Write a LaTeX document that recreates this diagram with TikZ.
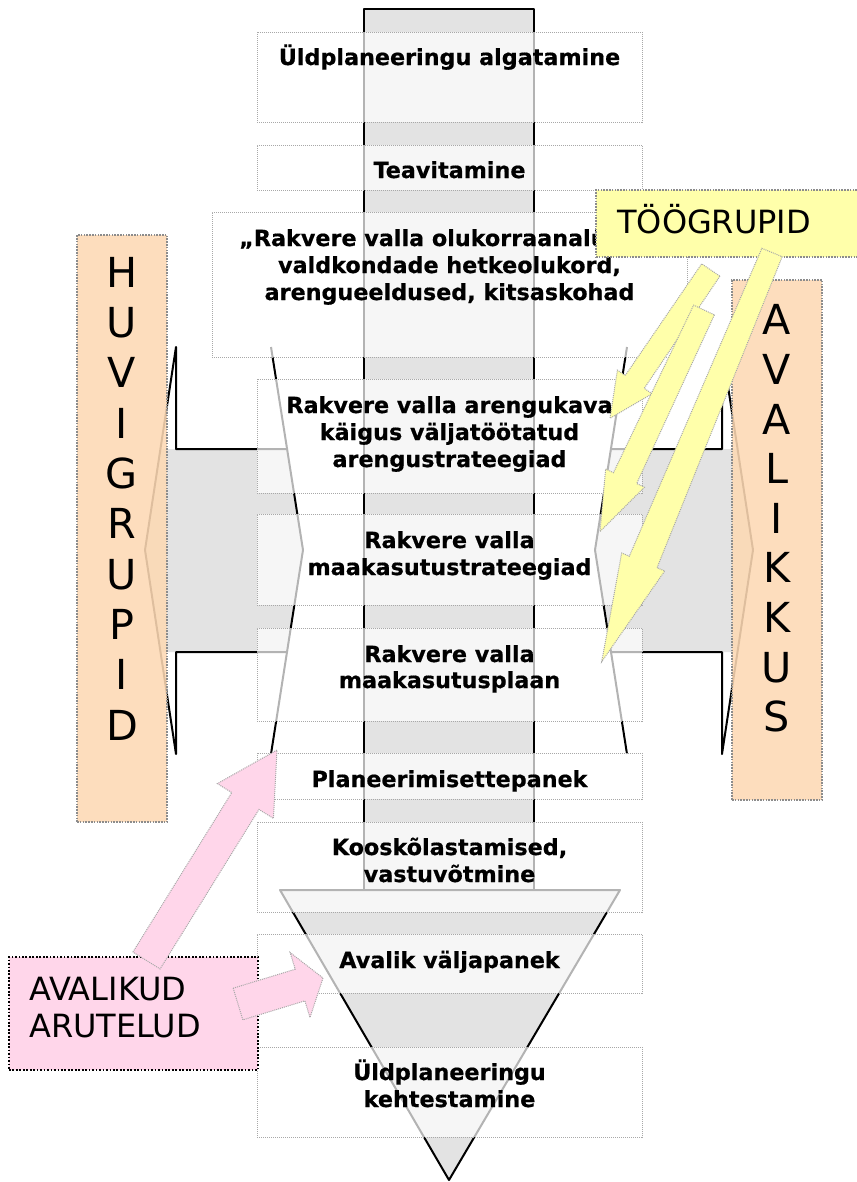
\documentclass[tikz,border=0pt]{standalone}
\usepackage{fontspec}
\setmainfont{DejaVu Sans}[BoldFeatures={FakeBold=0.6}]
\usetikzlibrary{calc,fit}
\definecolor{colgray}{RGB}{227,227,227}
\definecolor{boxline}{RGB}{168,168,168}
\definecolor{peach}{RGB}{253,217,180}
\definecolor{lemon}{RGB}{255,255,170}
\definecolor{rose}{RGB}{255,214,234}
\definecolor{dotgray}{RGB}{140,140,140}
% #1 style, #2 tail, #3 tip, #4 half shaft at tail, #5 half shaft at head, #6 half head, #7 head length
\newcommand{\blockarrow}[7]{%
  \coordinate (#2-base) at ($(#3)!#7!(#2)$);
  \path[#1] ($(#2)!#4!90:(#3)$) -- ($(#2-base)!#5!90:(#3)$) -- ($(#2-base)!#6!90:(#3)$) -- (#3)
    -- ($(#2-base)!#6!-90:(#3)$) -- ($(#2-base)!#5!-90:(#3)$) -- ($(#2)!#4!-90:(#3)$) -- cycle;
}
\begin{document}
\begin{tikzpicture}[x=0.75pt,y=-0.75pt,
  stagebox/.style={draw=boxline,line width=0.75pt,dash pattern=on 0.75pt off 0.75pt,fill=white,fill opacity=0.7,inner sep=0pt},
  stagetext/.style={anchor=base,inner sep=0pt,font=\fontsize{16.7pt}{20pt}\selectfont\bfseries},
  outline/.style={draw=black,line width=1.5pt,line join=round},
  groupbox/.style={draw=dotgray,line width=1.2pt,dash pattern=on 1.2pt off 0.9pt,fill=peach,fill opacity=0.88,inner sep=0pt},
  yellowbox/.style={draw=dotgray,line width=1.2pt,dash pattern=on 1.2pt off 0.9pt,fill=lemon,inner sep=0pt},
  pinkbox/.style={draw=black,line width=1.3pt,dash pattern=on 1.3pt off 1.3pt,fill=rose,inner sep=0pt},
  bigletters/.style={align=center,inner sep=0pt},
  labeltext/.style={anchor=base west,inner sep=0pt,font=\fontsize{24pt}{28pt}\selectfont},
  yarrow/.style={fill=lemon,draw=boxline,line width=0.75pt,dash pattern=on 0.75pt off 0.75pt,line join=miter},
  parrow/.style={fill=rose,draw=boxline,line width=0.75pt,dash pattern=on 0.75pt off 0.75pt,line join=miter}
]
\useasboundingbox (0,0) rectangle (857,1182);
\fill[white] (0,0) rectangle (857,1182);

% central column and funnel
\fill[colgray] (364,9) rectangle (534,890);
\fill[colgray] (280,890) -- (620,890) -- (449,1180) -- cycle;
\draw[outline] (364,890) -- (364,9) -- (534,9) -- (534,890);
\draw[outline] (280,890) -- (620,890) -- (449,1180) -- cycle;

% left group
\fill[colgray] (160.4,449) -- (287.1,449) -- (303,550) -- (287,652) -- (160.5,652) -- (145,550) -- cycle;
\draw[outline] (287.1,449) -- (176,449) -- (176,347) -- (145,550) -- (176,754) -- (176,652) -- (287,652);
\draw[outline] (271,347) -- (303,550) -- (271,754);
% right group
\fill[colgray] (737.6,449) -- (610.9,449) -- (595,550) -- (611,652) -- (737.5,652) -- (753,550) -- cycle;
\draw[outline] (610.9,449) -- (722,449) -- (722,347) -- (753,550) -- (722,754) -- (722,652) -- (611,652);
\draw[outline] (627,347) -- (595,550) -- (627,754);

% stage boxes
\node[stagebox,fit={(257,32) (642,122)}] (b1) {};
\node[stagebox,fit={(257,145) (642,190)}] (b2) {};
\node[stagebox,fit={(212,212) (687,357)}] (b3) {};
\node[stagebox,fit={(257,379) (642,493)}] (b4) {};
\node[stagebox,fit={(257,514) (642,605)}] (b5) {};
\node[stagebox,fit={(257,628) (642,721)}] (b6) {};
\node[stagebox,fit={(257,753) (642,799)}] (b7) {};
\node[stagebox,fit={(257,822) (642,912)}] (b8) {};
\node[stagebox,fit={(257,934) (642,993)}] (b9) {};
\node[stagebox,fit={(257,1047) (642,1137)}] (b10) {};

\node[stagetext] (t1) at (449.5,65) {Üldplaneeringu algatamine};
\node[stagetext] (t2) at (449.5,178) {Teavitamine};
\node[stagetext,anchor=base west] (t3a) at (239,246) {„Rakvere valla olukorraanalüüs“:};
\node[stagetext] (t3b) at (449.5,273) {valdkondade hetkeolukord,};
\node[stagetext] (t3c) at (449.5,300) {arengueeldused, kitsaskohad};
\node[stagetext] (t4a) at (449.5,413) {Rakvere valla arengukava};
\node[stagetext] (t4b) at (449.5,440) {käigus väljatöötatud};
\node[stagetext] (t4c) at (449.5,467) {arengustrateegiad};
\node[stagetext] (t5a) at (449.5,548) {Rakvere valla};
\node[stagetext] (t5b) at (449.5,575) {maakasutustrateegiad};
\node[stagetext] (t6a) at (449.5,662) {Rakvere valla};
\node[stagetext] (t6b) at (449.5,688) {maakasutusplaan};
\node[stagetext] (t7) at (449.5,787) {Planeerimisettepanek};
\node[stagetext] (t8a) at (449.5,855) {Kooskõlastamised,};
\node[stagetext] (t8b) at (449.5,882) {vastuvõtmine};
\node[stagetext] (t9) at (449.5,968) {Avalik väljapanek};
\node[stagetext] (t10a) at (449.5,1080) {Üldplaneeringu};
\node[stagetext] (t10b) at (449.5,1107) {kehtestamine};

% side groups
\node[groupbox,fit={(77,235) (167,822)}] (huvibox) {};
\node[bigletters,font=\fontsize{31pt}{37.75pt}\selectfont] (huvi) at (122,498.6) {H\\U\\V\\I\\G\\R\\U\\P\\I\\D};
\node[groupbox,fit={(732,280) (822,800)}] (avabox) {};
\node[bigletters,font=\fontsize{31pt}{37.2pt}\selectfont] (ava) at (777,518.5) {A\\V\\A\\L\\I\\K\\K\\U\\S};

% working groups
\node[yellowbox,fit={(596,190) (875,257)}] (toobox) {};
\node[labeltext] (toot) at (617,233.3) {TÖÖGRUPID};

\coordinate (y3t) at (772,252.5);  \coordinate (y3h) at (601.7,661.7);
\coordinate (y1t) at (710.8,270);  \coordinate (y1h) at (610,418.3);
\coordinate (y2t) at (704,310);    \coordinate (y2h) at (600,531.5);
\blockarrow{yarrow}{y3t}{y3h}{8.25pt}{11.25pt}{17.5pt}{81pt}
\blockarrow{yarrow}{y1t}{y1h}{8.25pt}{8.6pt}{15.75pt}{33pt}
\blockarrow{yarrow}{y2t}{y2h}{8.6pt}{9.6pt}{16.1pt}{44.25pt}

% public discussions
\node[pinkbox,fit={(9,957) (258,1070)}] (arubox) {};
\node[labeltext] (aru1) at (29,1000) {AVALIKUD};
\node[labeltext] (aru2) at (29,1037) {ARUTELUD};

\coordinate (pat) at (146.5,960.5); \coordinate (pah) at (277,750);
\coordinate (pbt) at (238,1004);    \coordinate (pbh) at (323,978);
\blockarrow{parrow}{pat}{pah}{12pt}{12pt}{24.75pt}{45pt}
\blockarrow{parrow}{pbt}{pbh}{12.4pt}{12.4pt}{25.5pt}{18pt}
\end{tikzpicture}
\end{document}
